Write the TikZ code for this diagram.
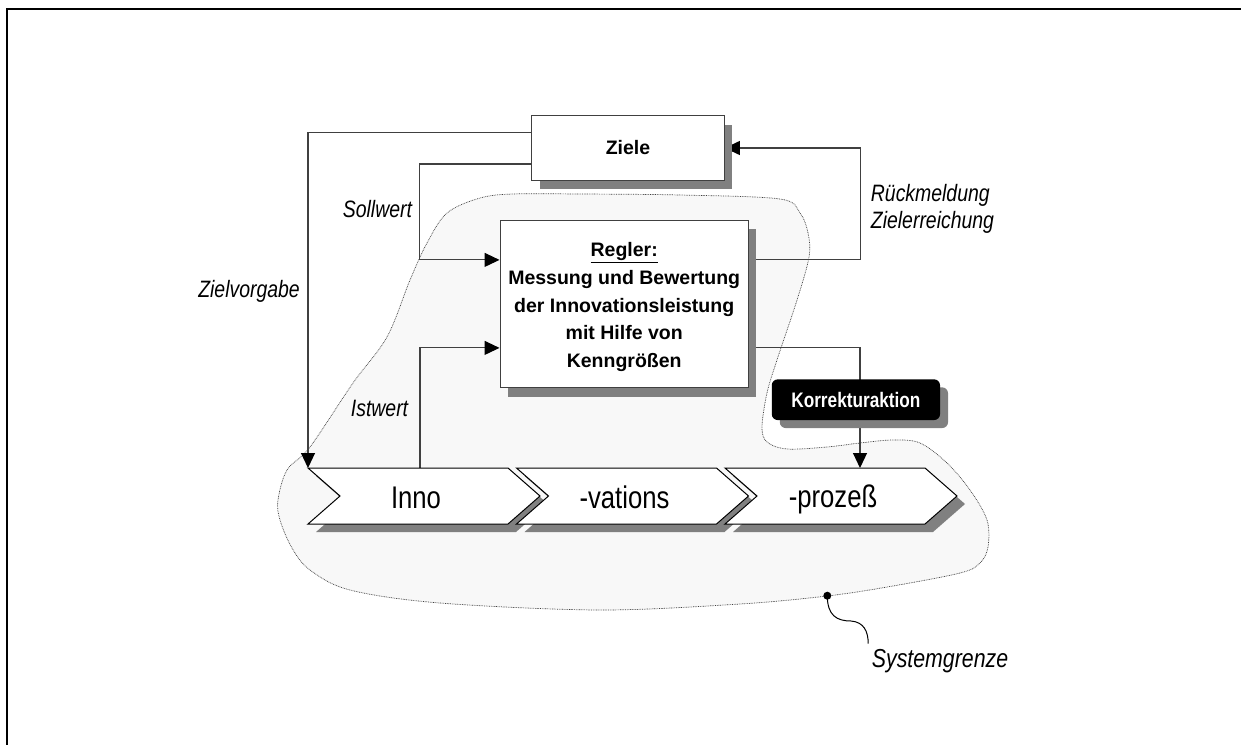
\documentclass[tikz,border=0pt]{standalone}
\usepackage{fontspec}
\setmainfont{Liberation Sans}
\newfontfamily\narrowsans[FakeStretch=0.82]{Liberation Sans}
\usetikzlibrary{arrows.meta,calc,shadows}
\definecolor{schatten}{HTML}{808080}
\definecolor{flaeche}{HTML}{F8F8F8}
\definecolor{linie}{HTML}{404040}
\pgfdeclarelayer{grund}
\pgfdeclarelayer{verbinder}
\pgfsetlayers{grund,verbinder,main}
\tikzset{
  conn/.style={draw=linie, line width=1.1pt},
  pfeil/.style={conn, -{Triangle[length=15pt,width=14pt,black]}},
  kasten/.style={draw=linie, line width=1.1pt, fill=white, inner sep=0pt,
    drop shadow={shadow xshift=8pt, shadow yshift=-9pt, fill=schatten, opacity=1}},
  korrekturbox/.style={fill=black, text=white, rounded corners=6pt, inner sep=0pt,
    font=\narrowsans\bfseries\fontsize{21}{25}\selectfont,
    drop shadow={shadow xshift=8pt, shadow yshift=-8pt, fill=schatten, opacity=1}},
  titel/.style={font=\bfseries\fontsize{19.5}{27.8}\selectfont},
  etikett/.style={font=\narrowsans\itshape\fontsize{23.7}{27}\selectfont, inner sep=0pt},
  chevtext/.style={font=\narrowsans\fontsize{31.3}{36}\selectfont, inner sep=0pt, anchor=base},
  chevform/.style={draw=black, line width=1pt, fill=white},
  grenze/.style={draw=black!75, line width=0.7pt, dash pattern=on 0.8pt off 0.9pt, fill=flaeche},
}
\begin{document}
\begin{tikzpicture}[x=1pt,y=-1pt]
\useasboundingbox (0,0) rectangle (1241,744);

% Hintergrund, Rahmen und Systemgrenze
\begin{pgfonlayer}{grund}
  \fill[white] (0,0) rectangle (1241,744);
  \draw[line width=2.4pt] (1260,9) -- (7,9) -- (7,760);
  \path[grenze] plot[smooth cycle, tension=0.55] coordinates {
    (410,280) (427,243) (447,213) (480,198) (513,194) (580,194) (680,195)
    (780,199) (800,213) (808,233) (809,257) (797,300) (777,360) (767,393)
    (762,427) (767,442) (787,449) (827,447) (860,443) (893,440) (920,443)
    (947,463) (970,490) (987,520) (988,547) (980,563) (960,573) (887,587)
    (827,596) (740,604) (600,610) (440,603) (350,590) (310,570) (292,548)
    (280,520) (278,500) (287,470) (310,447) (353,383) (387,337)};
\end{pgfonlayer}

% Kästen
\node[kasten, titel, minimum width=192.6pt, minimum height=64.3pt] (ziele) at (628,148) {Ziele};
\node[kasten, minimum width=248.3pt, minimum height=167.7pt] (regler) at (624.2,303.9) {};
\node[titel, align=center, inner sep=0pt] (reglertext) at (624.2,307)
  {\underline{Regler:}\\Messung und Bewertung\\der Innovationsleistung\\mit Hilfe von\\Kenngrößen};
\node[korrekturbox, minimum width=168.3pt, minimum height=40.7pt] (korrektur) at (855.9,399.7) {Korrekturaktion};

% Prozesspfeile
\coordinate (inno) at (308,468);
\coordinate (vations) at (516.5,468);
\coordinate (prozess) at (725,468);
\foreach \c in {inno,vations,prozess}
  \fill[schatten] ([shift={(8,8)}]\c) -- ++(200,0) -- ++(32,28) -- ++(-32,28) -- ++(-200,0) -- ++(32,-28) -- cycle;
\foreach \c in {inno,vations,prozess}
  \draw[chevform] (\c) -- ++(200,0) -- ++(32,28) -- ++(-32,28) -- ++(-200,0) -- ++(32,-28) -- cycle;
\node[chevtext] (innotext) at ([shift={(108,40)}]inno) {Inno};
\node[chevtext] (vationstext) at ([shift={(108,40)}]vations) {-vations};
\node[chevtext] (prozesstext) at ([shift={(108,39.5)}]prozess) {-prozeß};

% Regelkreis
\begin{pgfonlayer}{verbinder}
  \draw[pfeil] ([yshift=15.7pt]ziele.west) -| (inno);
  \draw[pfeil] ([yshift=-16pt]ziele.west) -| ([xshift=-80pt,yshift=44pt]regler.west) -- ([yshift=44pt]regler.west);
  \draw[pfeil] ([xshift=112pt]inno) |- ([yshift=-44pt]regler.west);
  \draw[pfeil] ([yshift=44pt]regler.east) -| ([xshift=135.7pt]ziele.east) -- (ziele.east);
  \draw[pfeil] ([yshift=-44pt]regler.east) -| ([xshift=135pt]prozess);
\end{pgfonlayer}

% Beschriftungen
\node[etikett, anchor=base east] (zielvorgabe) at (300,297) {Zielvorgabe};
\node[etikett, anchor=base west] (sollwert) at (342.7,217) {Sollwert};
\node[etikett, anchor=base west] (istwert) at (350.7,416.7) {Istwert};
\node[etikett, anchor=base west] (rueckmeldung) at (870.7,201) {Rückmeldung};
\node[etikett, anchor=base west] (zielerreichung) at (870.7,228) {Zielerreichung};

% Systemgrenze
\node[circle, fill=black, inner sep=0pt, minimum size=8pt] (grenzpunkt) at (827.3,595.7) {};
\node[etikett, font=\narrowsans\itshape\fontsize{26}{30}\selectfont, anchor=base west] (systemgrenze) at (871.7,667) {Systemgrenze};
\coordinate (knick) at (851,621);
\draw[line width=1pt] (grenzpunkt.center) .. controls +(0,20) and +(-14,0) .. (knick)
  .. controls +(13,1) and +(0,-12) .. ([shift={(-3.5,-5)}]systemgrenze.north west);
\end{tikzpicture}
\end{document}
